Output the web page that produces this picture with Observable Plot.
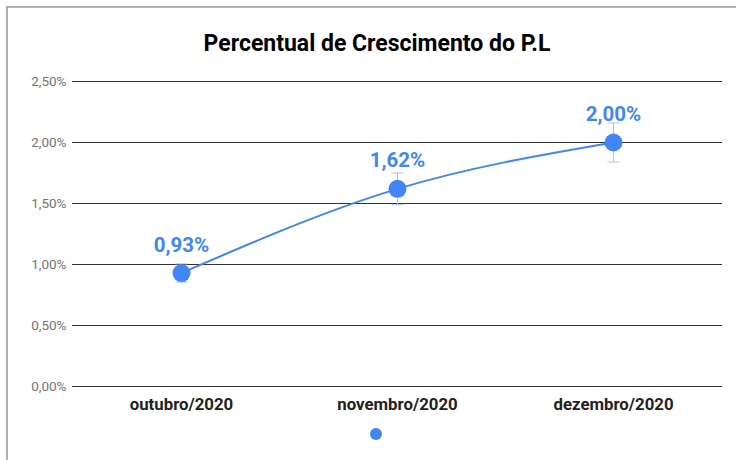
<!DOCTYPE html>
<html>
<head>
<meta charset="utf-8">
<script src="https://cdn.jsdelivr.net/npm/d3@7"></script>
<script src="https://cdn.jsdelivr.net/npm/@observablehq/plot@0.6"></script>
<style>
  html, body { margin: 0; padding: 0; background: #fff; }
  body { width: 736px; height: 460px; position: relative; overflow: hidden; font-family: Roboto, sans-serif; }
  #frame { position: absolute; left: 6px; top: 6px; width: 760px; height: 480px; border-left: 2px solid #b0b0b0; border-top: 2px solid #b0b0b0; }
  #title { position: absolute; left: 0; top: 30px; width: 754px; text-align: center; font: bold 23px Roboto, sans-serif; color: #000; }
  #chart { position: absolute; left: 0; top: 0; }
  #legend { position: absolute; left: 370px; top: 428px; width: 12px; height: 12px; border-radius: 50%; background: #4285f4; }
</style>
</head>
<body>
<div id="frame"></div>
<div id="chart"></div>
<div id="title">Percentual de Crescimento do P.L</div>
<div id="legend"></div>
<script>
const months = ["outubro/2020", "novembro/2020", "dezembro/2020"];
const growth = [0.93, 1.62, 2.00];
const errors = [0.075, 0.13, 0.16];
const yTicks = [0, 0.5, 1.0, 1.5, 2.0, 2.5];

const data = months.map((m, i) => ({month: m, value: growth[i], lo: growth[i] - errors[i], hi: growth[i] + errors[i]}));
const fmt = v => v.toFixed(2).replace(".", ",") + "%";
const capSymbol = { draw(ctx) { ctx.moveTo(-6, 0); ctx.lineTo(6, 0); } };
const blue = "#4285f4";

const chart = Plot.plot({
  width: 736,
  height: 420,
  marginLeft: 72,
  marginRight: 14,
  marginTop: 81,
  marginBottom: 34,
  style: { fontFamily: "Roboto, sans-serif", background: "transparent", overflow: "visible" },
  x: { type: "point", domain: months, padding: 0.5, label: null },
  y: { domain: [0, 2.5], label: null },
  marks: [
    Plot.ruleY(yTicks, { stroke: "#333", strokeWidth: 1, strokeOpacity: 1 }),
    Plot.axisY(yTicks, { tickSize: 0, tickPadding: 6, tickFormat: fmt, fontSize: 13.5, fill: "#757575", label: null }),
    Plot.axisX({ tickSize: 0, tickPadding: 12, fontSize: 16.8, fontWeight: "bold", fill: "#222", label: null }),
    Plot.ruleX(data, { x: "month", y1: "lo", y2: "hi", stroke: "#aac4f2", strokeWidth: 1 }),
    Plot.dot(data, { x: "month", y: "lo", symbol: capSymbol, stroke: "#aac4f2", strokeWidth: 1, fill: "none" }),
    Plot.dot(data, { x: "month", y: "hi", symbol: capSymbol, stroke: "#aac4f2", strokeWidth: 1, fill: "none" }),
    Plot.line(data, { x: "month", y: "value", stroke: blue, strokeWidth: 2, curve: "monotone-x" }),
    Plot.dot(data, { x: "month", y: "value", r: 9, fill: blue, stroke: "none" }),
    Plot.text(data, { x: "month", y: "value", text: d => fmt(d.value), dy: -28, fill: blue, fontSize: 20.5, fontWeight: "bold", stroke: "white", strokeWidth: 0 })
  ]
});
document.getElementById("chart").appendChild(chart);
</script>
</body>
</html>
